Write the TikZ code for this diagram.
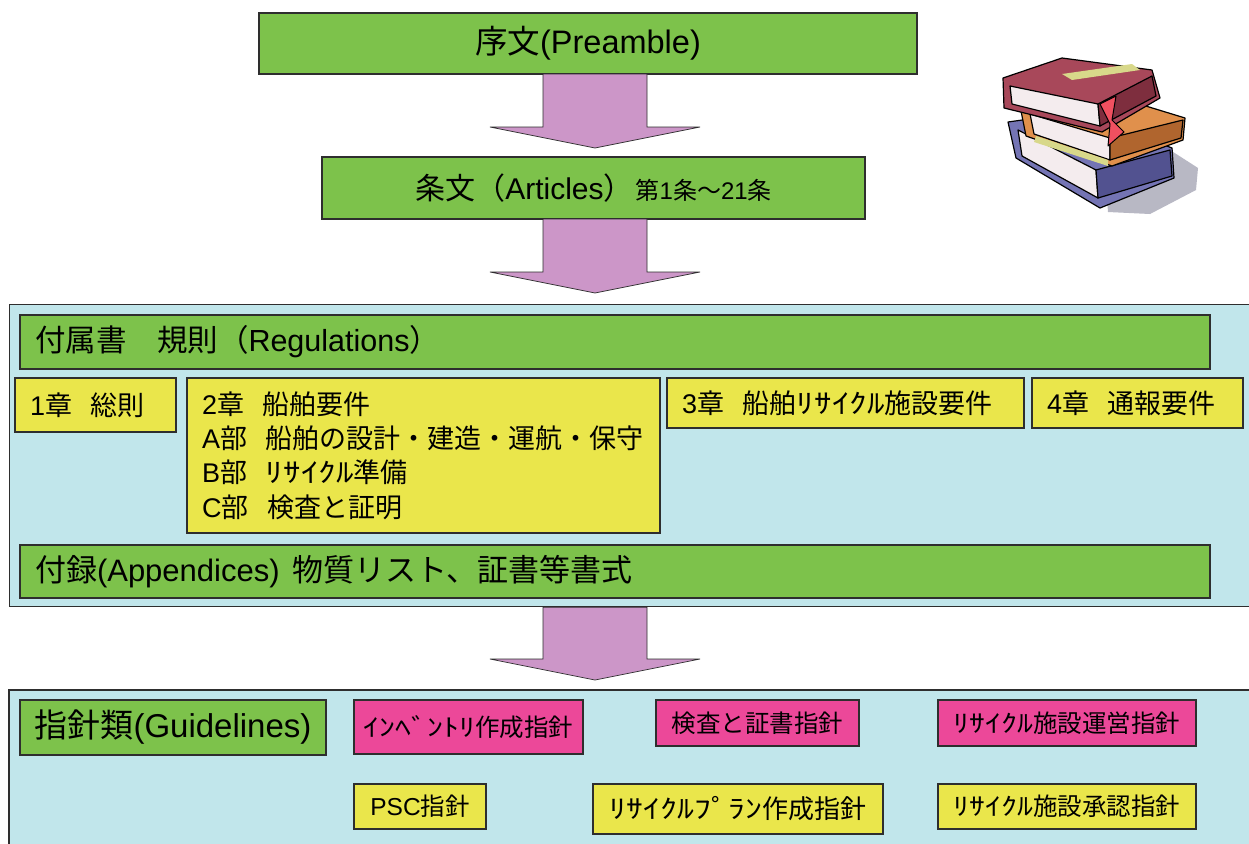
\documentclass[tikz,border=0pt]{standalone}
\usepackage{fontspec}
\setmainfont{Liberation Sans}
\newfontfamily\jp{Noto Sans CJK JP}
\newcommand{\J}[1]{{\jp #1}}
% half-width katakana, set a little wider
\newcommand{\K}[1]{\scalebox{1.3}[1]{\jp #1}}
\newcommand{\gap}{\hspace{0.7em}}
\newcommand{\fs}[1]{\fontsize{#1}{#1}\selectfont}
\usetikzlibrary{calc}

\definecolor{boxgreen}{HTML}{7DC24B}
\definecolor{boxyellow}{HTML}{EAE64B}
\definecolor{boxpink}{HTML}{EC4899}
\definecolor{panelcyan}{HTML}{C1E6EB}
\definecolor{flowarrow}{HTML}{CC96C8}
\definecolor{edgegray}{HTML}{2E2E2E}
\definecolor{bookred}{HTML}{A8485A}
\definecolor{bookredd}{HTML}{7E2E3E}
\definecolor{bookorange}{HTML}{E0904C}
\definecolor{bookoranged}{HTML}{B0652E}
\definecolor{bookblue}{HTML}{7474B4}
\definecolor{bookblued}{HTML}{525290}
\definecolor{bookpage}{HTML}{F4ECEE}
\definecolor{bookband}{HTML}{D8D88A}
\definecolor{ribbon}{HTML}{F05060}
\definecolor{shadowgray}{HTML}{B8B8C4}

\tikzset{
  basebox/.style={draw=edgegray, line width=1.4pt, inner sep=0pt, outer sep=0pt},
  gbox/.style={basebox, fill=boxgreen},
  ybox/.style={basebox, fill=boxyellow},
  pbox/.style={basebox, fill=boxpink},
  panel/.style={draw=edgegray, line width=1.2pt, fill=panelcyan},
  arrowbody/.style={fill=flowarrow, draw=edgegray, line width=0.7pt, line join=miter},
  bookline/.style={draw=black, line width=1.2pt, line join=round},
}

% box of given width/height, text left aligned with an indent
\newcommand{\lbox}[7]{% style, name, cx, cy, w, h, text
  \node[#1, minimum width=#5pt, minimum height=#6pt, text width=#5pt-30pt,
        inner xsep=15pt, align=left] (#2) at (#3,#4) {#7};}
\newcommand{\cbox}[7]{% style, name, cx, cy, w, h, text
  \node[#1, minimum width=#5pt, minimum height=#6pt, align=center] (#2) at (#3,#4) {#7};}

% block arrow from the bottom of a node down to a tip coordinate
\newcommand{\flowarrow}[2]{%
  \path[arrowbody] ($(#1.south -| #2)+(-52,0)$) -- ($(#2)+(-52,-21)$)
    -- ($(#2)+(-105,-21)$) -- (#2) -- ($(#2)+(105,-21)$) -- ($(#2)+(52,-21)$)
    -- ($(#1.south -| #2)+(52,0)$) -- cycle;}

\begin{document}
\begin{tikzpicture}[x=1pt, y=-1pt]
\useasboundingbox (0,0) rectangle (1249,843);
\fill[white] (0,0) rectangle (1249,843);

% ---------- top of the flow ----------
\cbox{gbox}{pre}{588}{43.5}{658}{61}{\fs{32.5}\J{序文}(Preamble)}
\cbox{gbox}{art}{593.5}{188}{543}{62}{\fs{30}\J{条文（}Articles\J{）}\hspace{2pt}{\fs{24}\J{第}1\J{条～}21\J{条}}}

\coordinate (tip1) at (595,148);
\coordinate (tip2) at (595,293);
\flowarrow{pre}{tip1}
\flowarrow{art}{tip2}

% ---------- annex panel ----------
\node[panel, minimum width=1253pt, minimum height=302pt, inner sep=0pt, anchor=north west] (annex) at (9,304) {};
\lbox{gbox}{reg}{615}{342}{1190}{54}{\fs{30.5}\J{付属書　規則（}Regulations\J{）}}
\lbox{ybox}{ch1}{95.5}{405}{161}{54}{\fs{27}1\J{章}\gap\J{総則}}
\node[ybox, minimum width=473pt, minimum height=155pt, text width=443pt,
      inner xsep=15pt, align=left, font={\fontsize{27}{34.3}\selectfont}] (ch2) at (423.5,455.5)
  {2\J{章}\gap\J{船舶要件}\\
   A\J{部}\gap\J{船舶の設計・建造・運航・保守}\\
   B\J{部}\gap\K{ﾘｻｲｸﾙ}\J{準備}\\
   C\J{部}\gap\J{検査と証明}};
\lbox{ybox}{ch3}{845.5}{403}{357}{50}{\fs{27}3\J{章}\gap\J{船舶}\K{ﾘｻｲｸﾙ}\J{施設要件}}
\lbox{ybox}{ch4}{1137.5}{403}{211}{50}{\fs{27}4\J{章}\gap\J{通報要件}}
\lbox{gbox}{app}{615}{571.5}{1190}{53}{\fs{31}\J{付録}(Appendices)\hspace{0.4em}\J{物質リスト、証書等書式}}

\coordinate (tip3) at (595,680);
\flowarrow{annex}{tip3}

% ---------- guideline panel ----------
\path[panel] (9,690) rectangle (1262,860);
\cbox{gbox}{gl}{173}{727.5}{306}{55}{\fs{33}\J{指針類}(Guidelines)}
\cbox{pbox}{inv}{468.5}{727}{229}{54}{\fs{24.5}\K{ｲﾝﾍﾞﾝﾄﾘ}\J{作成指針}}
\cbox{pbox}{ins}{757.5}{723}{203}{46}{\fs{24.5}\J{検査と証書指針}}
\cbox{pbox}{rop}{1067}{723}{258}{46}{\fs{24.5}\K{ﾘｻｲｸﾙ}\J{施設運営指針}}
\cbox{ybox}{psc}{420}{806.5}{132}{45}{\fs{24.5}PSC\J{指針}}
\cbox{ybox}{rpl}{738}{809}{290}{50}{\fs{26}\K{ﾘｻｲｸﾙﾌﾟﾗﾝ}\J{作成指針}}
\cbox{ybox}{rap}{1067}{806.5}{258}{45}{\fs{24.5}\K{ﾘｻｲｸﾙ}\J{施設承認指針}}

% ---------- stack of books ----------
% shadow
\fill[shadowgray] (1105,175) -- (1170,150) -- (1198,168) -- (1196,190) -- (1150,214) -- (1108,212) -- cycle;
% bottom book (blue)
\path[bookline, fill=bookblue] (1008,122) -- (1080,112) -- (1172,148) -- (1174,178) -- (1100,208) -- (1016,158) -- cycle;
\path[bookline, fill=bookpage] (1018,130) -- (1096,170) -- (1098,198) -- (1022,156) -- cycle;
\path[bookline, fill=bookblued] (1096,170) -- (1170,150) -- (1172,176) -- (1098,198) -- cycle;
% middle book (orange)
\path[bookline, fill=bookorange] (1020,106) -- (1100,92) -- (1185,118) -- (1183,140) -- (1112,166) -- (1026,136) -- cycle;
\path[bookline, fill=bookpage] (1030,114) -- (1110,138) -- (1110,160) -- (1034,134) -- cycle;
\path[bookline, fill=bookoranged] (1110,138) -- (1183,120) -- (1181,138) -- (1110,160) -- cycle;
\fill[bookband] (1036,136) -- (1108,160) -- (1108,166) -- (1034,142) -- cycle;
% top book (maroon)
\path[bookline, fill=bookred] (1003,78) -- (1062,58) -- (1152,70) -- (1160,98) -- (1102,132) -- (1004,108) -- cycle;
\path[bookline, fill=bookpage] (1010,86) -- (1098,104) -- (1100,126) -- (1012,104) -- cycle;
\path[bookline, fill=bookredd] (1098,104) -- (1152,76) -- (1156,96) -- (1100,126) -- cycle;
\fill[bookband] (1062,74) -- (1132,64) -- (1140,70) -- (1072,80) -- cycle;
% bookmark ribbon
\path[bookline, fill=ribbon, line width=1pt] (1100,104) -- (1116,96) -- (1112,120) -- (1124,132) -- (1108,146) -- (1110,124) -- cycle;
\end{tikzpicture}
\end{document}
